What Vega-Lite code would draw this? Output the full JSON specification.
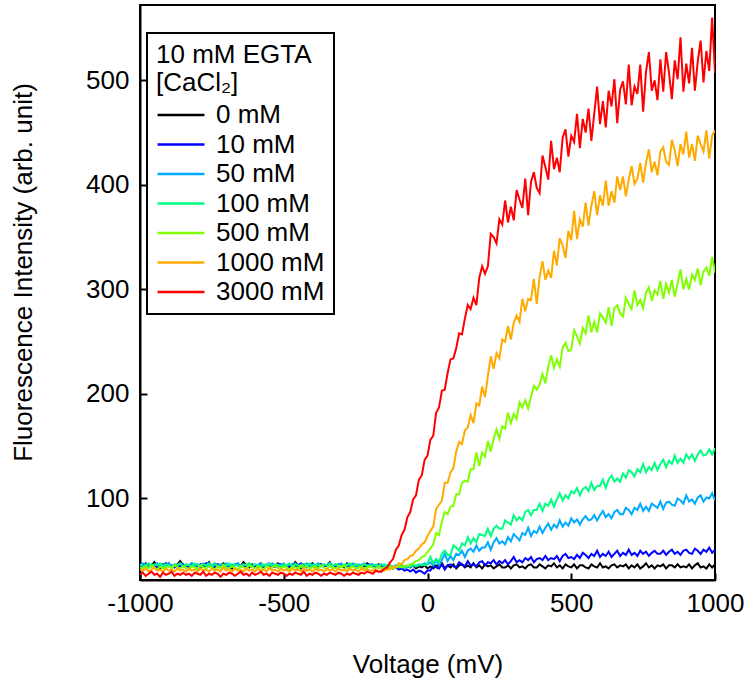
{
"$schema": "https://vega.github.io/schema/vega-lite/v6.json",
"width": 575, "height": 575,
"autosize": "none",
"padding": {"left": 140, "top": 5, "right": 33, "bottom": 105},
"background": "white",
"config": {"font": "Liberation Sans", "view": {"stroke": "black", "strokeWidth": 2}, "legend": {"strokeWidth": 2, "strokeColor": "black"}},
"data": {"values": [
{"v":-1000,"0 mM":37,"10 mM":35,"50 mM":36,"100 mM":37,"500 mM":34,"1000 mM":32,"3000 mM":27},
{"v":-990,"0 mM":35,"10 mM":36,"50 mM":38,"100 mM":35,"500 mM":33,"1000 mM":31,"3000 mM":29},
{"v":-980,"0 mM":38,"10 mM":34,"50 mM":37,"100 mM":36,"500 mM":35,"1000 mM":33,"3000 mM":26},
{"v":-970,"0 mM":34,"10 mM":37,"50 mM":35,"100 mM":38,"500 mM":33,"1000 mM":30,"3000 mM":28},
{"v":-960,"0 mM":36,"10 mM":35,"50 mM":37,"100 mM":35,"500 mM":36,"1000 mM":32,"3000 mM":30},
{"v":-950,"0 mM":39,"10 mM":36,"50 mM":36,"100 mM":37,"500 mM":34,"1000 mM":34,"3000 mM":27},
{"v":-940,"0 mM":35,"10 mM":34,"50 mM":38,"100 mM":36,"500 mM":32,"1000 mM":31,"3000 mM":28},
{"v":-930,"0 mM":33,"10 mM":37,"50 mM":35,"100 mM":38,"500 mM":35,"1000 mM":32,"3000 mM":25},
{"v":-920,"0 mM":37,"10 mM":35,"50 mM":37,"100 mM":35,"500 mM":33,"1000 mM":30,"3000 mM":29},
{"v":-910,"0 mM":36,"10 mM":38,"50 mM":36,"100 mM":37,"500 mM":34,"1000 mM":33,"3000 mM":27},
{"v":-900,"0 mM":38,"10 mM":35,"50 mM":38,"100 mM":36,"500 mM":35,"1000 mM":31,"3000 mM":28},
{"v":-890,"0 mM":34,"10 mM":36,"50 mM":35,"100 mM":34,"500 mM":33,"1000 mM":32,"3000 mM":30},
{"v":-880,"0 mM":35,"10 mM":34,"50 mM":37,"100 mM":37,"500 mM":36,"1000 mM":30,"3000 mM":26},
{"v":-870,"0 mM":37,"10 mM":36,"50 mM":36,"100 mM":36,"500 mM":34,"1000 mM":33,"3000 mM":28},
{"v":-860,"0 mM":40,"10 mM":35,"50 mM":38,"100 mM":38,"500 mM":33,"1000 mM":31,"3000 mM":27},
{"v":-850,"0 mM":36,"10 mM":37,"50 mM":35,"100 mM":35,"500 mM":35,"1000 mM":32,"3000 mM":29},
{"v":-840,"0 mM":34,"10 mM":34,"50 mM":37,"100 mM":37,"500 mM":34,"1000 mM":30,"3000 mM":27},
{"v":-830,"0 mM":35,"10 mM":36,"50 mM":36,"100 mM":36,"500 mM":32,"1000 mM":33,"3000 mM":28},
{"v":-820,"0 mM":38,"10 mM":35,"50 mM":38,"100 mM":35,"500 mM":35,"1000 mM":31,"3000 mM":26},
{"v":-810,"0 mM":36,"10 mM":37,"50 mM":35,"100 mM":38,"500 mM":34,"1000 mM":32,"3000 mM":29},
{"v":-800,"0 mM":33,"10 mM":35,"50 mM":37,"100 mM":36,"500 mM":33,"1000 mM":30,"3000 mM":28},
{"v":-790,"0 mM":37,"10 mM":34,"50 mM":36,"100 mM":35,"500 mM":36,"1000 mM":33,"3000 mM":27},
{"v":-780,"0 mM":35,"10 mM":36,"50 mM":38,"100 mM":37,"500 mM":34,"1000 mM":31,"3000 mM":30},
{"v":-770,"0 mM":36,"10 mM":38,"50 mM":35,"100 mM":36,"500 mM":33,"1000 mM":32,"3000 mM":26},
{"v":-760,"0 mM":39,"10 mM":35,"50 mM":37,"100 mM":38,"500 mM":35,"1000 mM":30,"3000 mM":28},
{"v":-750,"0 mM":34,"10 mM":36,"50 mM":36,"100 mM":35,"500 mM":34,"1000 mM":33,"3000 mM":27},
{"v":-740,"0 mM":36,"10 mM":34,"50 mM":38,"100 mM":37,"500 mM":32,"1000 mM":31,"3000 mM":29},
{"v":-730,"0 mM":37,"10 mM":37,"50 mM":35,"100 mM":36,"500 mM":35,"1000 mM":32,"3000 mM":28},
{"v":-720,"0 mM":35,"10 mM":35,"50 mM":37,"100 mM":34,"500 mM":33,"1000 mM":30,"3000 mM":25},
{"v":-710,"0 mM":38,"10 mM":36,"50 mM":36,"100 mM":37,"500 mM":36,"1000 mM":34,"3000 mM":28},
{"v":-700,"0 mM":36,"10 mM":34,"50 mM":38,"100 mM":36,"500 mM":34,"1000 mM":31,"3000 mM":27},
{"v":-690,"0 mM":34,"10 mM":37,"50 mM":35,"100 mM":38,"500 mM":33,"1000 mM":32,"3000 mM":29},
{"v":-680,"0 mM":33,"10 mM":35,"50 mM":37,"100 mM":35,"500 mM":35,"1000 mM":30,"3000 mM":28},
{"v":-670,"0 mM":37,"10 mM":36,"50 mM":36,"100 mM":37,"500 mM":34,"1000 mM":33,"3000 mM":26},
{"v":-660,"0 mM":36,"10 mM":38,"50 mM":38,"100 mM":36,"500 mM":32,"1000 mM":31,"3000 mM":28},
{"v":-650,"0 mM":35,"10 mM":35,"50 mM":35,"100 mM":35,"500 mM":35,"1000 mM":32,"3000 mM":30},
{"v":-640,"0 mM":39,"10 mM":36,"50 mM":37,"100 mM":37,"500 mM":34,"1000 mM":30,"3000 mM":27},
{"v":-630,"0 mM":36,"10 mM":34,"50 mM":36,"100 mM":36,"500 mM":33,"1000 mM":33,"3000 mM":28},
{"v":-620,"0 mM":34,"10 mM":37,"50 mM":38,"100 mM":38,"500 mM":36,"1000 mM":31,"3000 mM":26},
{"v":-610,"0 mM":37,"10 mM":35,"50 mM":35,"100 mM":35,"500 mM":34,"1000 mM":32,"3000 mM":29},
{"v":-600,"0 mM":35,"10 mM":36,"50 mM":37,"100 mM":37,"500 mM":33,"1000 mM":30,"3000 mM":27},
{"v":-590,"0 mM":36,"10 mM":34,"50 mM":36,"100 mM":36,"500 mM":35,"1000 mM":33,"3000 mM":28},
{"v":-580,"0 mM":38,"10 mM":37,"50 mM":38,"100 mM":35,"500 mM":34,"1000 mM":31,"3000 mM":30},
{"v":-570,"0 mM":33,"10 mM":35,"50 mM":35,"100 mM":37,"500 mM":32,"1000 mM":32,"3000 mM":27},
{"v":-560,"0 mM":36,"10 mM":36,"50 mM":37,"100 mM":36,"500 mM":35,"1000 mM":30,"3000 mM":28},
{"v":-550,"0 mM":37,"10 mM":38,"50 mM":36,"100 mM":38,"500 mM":33,"1000 mM":34,"3000 mM":26},
{"v":-540,"0 mM":34,"10 mM":35,"50 mM":38,"100 mM":35,"500 mM":34,"1000 mM":31,"3000 mM":29},
{"v":-530,"0 mM":35,"10 mM":36,"50 mM":35,"100 mM":37,"500 mM":36,"1000 mM":32,"3000 mM":28},
{"v":-520,"0 mM":38,"10 mM":34,"50 mM":37,"100 mM":36,"500 mM":34,"1000 mM":30,"3000 mM":27},
{"v":-510,"0 mM":36,"10 mM":37,"50 mM":36,"100 mM":35,"500 mM":33,"1000 mM":33,"3000 mM":29},
{"v":-500,"0 mM":37,"10 mM":35,"50 mM":38,"100 mM":37,"500 mM":35,"1000 mM":31,"3000 mM":28},
{"v":-490,"0 mM":34,"10 mM":36,"50 mM":35,"100 mM":36,"500 mM":34,"1000 mM":32,"3000 mM":26},
{"v":-480,"0 mM":36,"10 mM":34,"50 mM":37,"100 mM":38,"500 mM":32,"1000 mM":30,"3000 mM":28},
{"v":-470,"0 mM":35,"10 mM":37,"50 mM":36,"100 mM":35,"500 mM":35,"1000 mM":33,"3000 mM":27},
{"v":-460,"0 mM":39,"10 mM":35,"50 mM":38,"100 mM":37,"500 mM":34,"1000 mM":31,"3000 mM":29},
{"v":-450,"0 mM":36,"10 mM":36,"50 mM":35,"100 mM":36,"500 mM":33,"1000 mM":32,"3000 mM":28},
{"v":-440,"0 mM":33,"10 mM":38,"50 mM":37,"100 mM":34,"500 mM":36,"1000 mM":30,"3000 mM":27},
{"v":-430,"0 mM":37,"10 mM":35,"50 mM":36,"100 mM":37,"500 mM":34,"1000 mM":33,"3000 mM":30},
{"v":-420,"0 mM":35,"10 mM":34,"50 mM":38,"100 mM":36,"500 mM":35,"1000 mM":31,"3000 mM":26},
{"v":-410,"0 mM":36,"10 mM":37,"50 mM":35,"100 mM":38,"500 mM":33,"1000 mM":32,"3000 mM":28},
{"v":-400,"0 mM":38,"10 mM":35,"50 mM":37,"100 mM":35,"500 mM":34,"1000 mM":30,"3000 mM":27},
{"v":-390,"0 mM":34,"10 mM":36,"50 mM":36,"100 mM":37,"500 mM":35,"1000 mM":33,"3000 mM":29},
{"v":-380,"0 mM":36,"10 mM":34,"50 mM":38,"100 mM":36,"500 mM":33,"1000 mM":31,"3000 mM":28},
{"v":-370,"0 mM":37,"10 mM":37,"50 mM":35,"100 mM":35,"500 mM":36,"1000 mM":32,"3000 mM":26},
{"v":-360,"0 mM":35,"10 mM":35,"50 mM":37,"100 mM":37,"500 mM":34,"1000 mM":30,"3000 mM":28},
{"v":-350,"0 mM":36,"10 mM":36,"50 mM":36,"100 mM":36,"500 mM":32,"1000 mM":33,"3000 mM":27},
{"v":-340,"0 mM":39,"10 mM":38,"50 mM":38,"100 mM":38,"500 mM":35,"1000 mM":31,"3000 mM":29},
{"v":-330,"0 mM":34,"10 mM":35,"50 mM":35,"100 mM":35,"500 mM":34,"1000 mM":32,"3000 mM":28},
{"v":-320,"0 mM":35,"10 mM":36,"50 mM":37,"100 mM":37,"500 mM":33,"1000 mM":30,"3000 mM":27},
{"v":-310,"0 mM":37,"10 mM":34,"50 mM":36,"100 mM":36,"500 mM":35,"1000 mM":33,"3000 mM":29},
{"v":-300,"0 mM":36,"10 mM":37,"50 mM":38,"100 mM":35,"500 mM":34,"1000 mM":31,"3000 mM":28},
{"v":-290,"0 mM":34,"10 mM":35,"50 mM":35,"100 mM":37,"500 mM":36,"1000 mM":32,"3000 mM":26},
{"v":-280,"0 mM":38,"10 mM":36,"50 mM":37,"100 mM":36,"500 mM":33,"1000 mM":30,"3000 mM":28},
{"v":-270,"0 mM":35,"10 mM":34,"50 mM":36,"100 mM":38,"500 mM":34,"1000 mM":33,"3000 mM":27},
{"v":-260,"0 mM":36,"10 mM":37,"50 mM":38,"100 mM":35,"500 mM":35,"1000 mM":31,"3000 mM":29},
{"v":-250,"0 mM":37,"10 mM":35,"50 mM":35,"100 mM":37,"500 mM":33,"1000 mM":32,"3000 mM":28},
{"v":-240,"0 mM":34,"10 mM":36,"50 mM":37,"100 mM":36,"500 mM":34,"1000 mM":30,"3000 mM":27},
{"v":-230,"0 mM":36,"10 mM":35,"50 mM":36,"100 mM":35,"500 mM":35,"1000 mM":33,"3000 mM":29},
{"v":-220,"0 mM":35,"10 mM":37,"50 mM":38,"100 mM":37,"500 mM":33,"1000 mM":31,"3000 mM":28},
{"v":-210,"0 mM":38,"10 mM":34,"50 mM":35,"100 mM":36,"500 mM":34,"1000 mM":32,"3000 mM":30},
{"v":-200,"0 mM":36,"10 mM":36,"50 mM":37,"100 mM":35,"500 mM":35,"1000 mM":31,"3000 mM":29},
{"v":-190,"0 mM":36,"10 mM":35,"50 mM":37,"100 mM":36,"500 mM":34,"1000 mM":31,"3000 mM":28},
{"v":-180,"0 mM":34,"10 mM":36,"50 mM":35,"100 mM":37,"500 mM":33,"1000 mM":32,"3000 mM":31},
{"v":-170,"0 mM":37,"10 mM":34,"50 mM":36,"100 mM":35,"500 mM":35,"1000 mM":30,"3000 mM":30},
{"v":-160,"0 mM":35,"10 mM":36,"50 mM":37,"100 mM":36,"500 mM":33,"1000 mM":32,"3000 mM":30},
{"v":-150,"0 mM":36,"10 mM":35,"50 mM":35,"100 mM":37,"500 mM":34,"1000 mM":31,"3000 mM":33},
{"v":-140,"0 mM":34,"10 mM":34,"50 mM":36,"100 mM":35,"500 mM":32,"1000 mM":33,"3000 mM":34},
{"v":-130,"0 mM":36,"10 mM":35,"50 mM":34,"100 mM":36,"500 mM":35,"1000 mM":32,"3000 mM":39},
{"v":-120,"0 mM":33,"10 mM":33,"50 mM":35,"100 mM":34,"500 mM":33,"1000 mM":35,"3000 mM":42},
{"v":-110,"0 mM":35,"10 mM":34,"50 mM":36,"100 mM":36,"500 mM":34,"1000 mM":34,"3000 mM":51},
{"v":-100,"0 mM":34,"10 mM":32,"50 mM":34,"100 mM":35,"500 mM":35,"1000 mM":38,"3000 mM":55},
{"v":-90,"0 mM":36,"10 mM":33,"50 mM":35,"100 mM":36,"500 mM":34,"1000 mM":37,"3000 mM":65},
{"v":-80,"0 mM":33,"10 mM":31,"50 mM":33,"100 mM":34,"500 mM":36,"1000 mM":41,"3000 mM":70},
{"v":-70,"0 mM":35,"10 mM":32,"50 mM":35,"100 mM":36,"500 mM":35,"1000 mM":42,"3000 mM":82},
{"v":-60,"0 mM":34,"10 mM":30,"50 mM":34,"100 mM":35,"500 mM":37,"1000 mM":45,"3000 mM":87},
{"v":-50,"0 mM":36,"10 mM":32,"50 mM":36,"100 mM":37,"500 mM":38,"1000 mM":46,"3000 mM":99},
{"v":-40,"0 mM":33,"10 mM":29,"50 mM":35,"100 mM":35,"500 mM":40,"1000 mM":50,"3000 mM":103},
{"v":-30,"0 mM":35,"10 mM":31,"50 mM":37,"100 mM":36,"500 mM":41,"1000 mM":52,"3000 mM":118},
{"v":-20,"0 mM":34,"10 mM":30,"50 mM":36,"100 mM":37,"500 mM":44,"1000 mM":56,"3000 mM":122},
{"v":-10,"0 mM":36,"10 mM":28,"50 mM":38,"100 mM":36,"500 mM":45,"1000 mM":58,"3000 mM":137},
{"v":0,"0 mM":33,"10 mM":31,"50 mM":37,"100 mM":38,"500 mM":49,"1000 mM":64,"3000 mM":141},
{"v":10,"0 mM":35,"10 mM":31,"50 mM":39,"100 mM":44,"500 mM":52,"1000 mM":69,"3000 mM":156},
{"v":20,"0 mM":33,"10 mM":36,"50 mM":36,"100 mM":38,"500 mM":56,"1000 mM":73,"3000 mM":160},
{"v":30,"0 mM":36,"10 mM":34,"50 mM":41,"100 mM":42,"500 mM":67,"1000 mM":90,"3000 mM":182},
{"v":40,"0 mM":35,"10 mM":33,"50 mM":36,"100 mM":39,"500 mM":65,"1000 mM":94,"3000 mM":187},
{"v":50,"0 mM":38,"10 mM":37,"50 mM":41,"100 mM":47,"500 mM":78,"1000 mM":98,"3000 mM":203},
{"v":60,"0 mM":33,"10 mM":32,"50 mM":47,"100 mM":50,"500 mM":87,"1000 mM":115,"3000 mM":204},
{"v":70,"0 mM":36,"10 mM":36,"50 mM":40,"100 mM":46,"500 mM":85,"1000 mM":115,"3000 mM":220},
{"v":80,"0 mM":34,"10 mM":37,"50 mM":45,"100 mM":46,"500 mM":92,"1000 mM":125,"3000 mM":233},
{"v":90,"0 mM":37,"10 mM":35,"50 mM":41,"100 mM":55,"500 mM":93,"1000 mM":129,"3000 mM":234},
{"v":100,"0 mM":33,"10 mM":34,"50 mM":47,"100 mM":53,"500 mM":104,"1000 mM":145,"3000 mM":244},
{"v":110,"0 mM":36,"10 mM":39,"50 mM":46,"100 mM":50,"500 mM":104,"1000 mM":154,"3000 mM":258},
{"v":120,"0 mM":37,"10 mM":37,"50 mM":50,"100 mM":57,"500 mM":115,"1000 mM":152,"3000 mM":257},
{"v":130,"0 mM":34,"10 mM":35,"50 mM":44,"100 mM":55,"500 mM":117,"1000 mM":165,"3000 mM":272},
{"v":140,"0 mM":36,"10 mM":40,"50 mM":50,"100 mM":63,"500 mM":116,"1000 mM":168,"3000 mM":285},
{"v":150,"0 mM":34,"10 mM":36,"50 mM":52,"100 mM":57,"500 mM":128,"1000 mM":180,"3000 mM":281},
{"v":160,"0 mM":38,"10 mM":37,"50 mM":49,"100 mM":62,"500 mM":128,"1000 mM":172,"3000 mM":292},
{"v":170,"0 mM":34,"10 mM":35,"50 mM":55,"100 mM":58,"500 mM":144,"1000 mM":191,"3000 mM":285},
{"v":180,"0 mM":36,"10 mM":39,"50 mM":50,"100 mM":66,"500 mM":131,"1000 mM":189,"3000 mM":311},
{"v":190,"0 mM":33,"10 mM":40,"50 mM":53,"100 mM":65,"500 mM":144,"1000 mM":207,"3000 mM":322},
{"v":200,"0 mM":37,"10 mM":36,"50 mM":53,"100 mM":64,"500 mM":140,"1000 mM":197,"3000 mM":315},
{"v":210,"0 mM":35,"10 mM":39,"50 mM":58,"100 mM":71,"500 mM":155,"1000 mM":217,"3000 mM":322},
{"v":220,"0 mM":36,"10 mM":38,"50 mM":51,"100 mM":64,"500 mM":145,"1000 mM":236,"3000 mM":353},
{"v":230,"0 mM":33,"10 mM":41,"50 mM":58,"100 mM":71,"500 mM":157,"1000 mM":224,"3000 mM":350},
{"v":240,"0 mM":35,"10 mM":37,"50 mM":62,"100 mM":74,"500 mM":166,"1000 mM":239,"3000 mM":344},
{"v":250,"0 mM":37,"10 mM":40,"50 mM":57,"100 mM":71,"500 mM":157,"1000 mM":234,"3000 mM":367},
{"v":260,"0 mM":34,"10 mM":38,"50 mM":59,"100 mM":71,"500 mM":169,"1000 mM":252,"3000 mM":362},
{"v":270,"0 mM":34,"10 mM":41,"50 mM":56,"100 mM":79,"500 mM":167,"1000 mM":250,"3000 mM":385},
{"v":280,"0 mM":36,"10 mM":37,"50 mM":63,"100 mM":77,"500 mM":182,"1000 mM":265,"3000 mM":364},
{"v":290,"0 mM":33,"10 mM":40,"50 mM":59,"100 mM":75,"500 mM":172,"1000 mM":252,"3000 mM":379},
{"v":300,"0 mM":36,"10 mM":44,"50 mM":66,"100 mM":84,"500 mM":181,"1000 mM":268,"3000 mM":366},
{"v":310,"0 mM":37,"10 mM":39,"50 mM":63,"100 mM":79,"500 mM":176,"1000 mM":275,"3000 mM":395},
{"v":320,"0 mM":34,"10 mM":41,"50 mM":60,"100 mM":82,"500 mM":192,"1000 mM":269,"3000 mM":386},
{"v":330,"0 mM":35,"10 mM":39,"50 mM":67,"100 mM":79,"500 mM":187,"1000 mM":291,"3000 mM":378},
{"v":340,"0 mM":33,"10 mM":43,"50 mM":65,"100 mM":87,"500 mM":194,"1000 mM":279,"3000 mM":406},
{"v":350,"0 mM":36,"10 mM":41,"50 mM":72,"100 mM":89,"500 mM":186,"1000 mM":291,"3000 mM":371},
{"v":360,"0 mM":37,"10 mM":44,"50 mM":64,"100 mM":84,"500 mM":197,"1000 mM":290,"3000 mM":403},
{"v":370,"0 mM":34,"10 mM":39,"50 mM":69,"100 mM":89,"500 mM":208,"1000 mM":310,"3000 mM":412},
{"v":380,"0 mM":34,"10 mM":42,"50 mM":67,"100 mM":89,"500 mM":204,"1000 mM":286,"3000 mM":397},
{"v":390,"0 mM":37,"10 mM":43,"50 mM":73,"100 mM":95,"500 mM":209,"1000 mM":312,"3000 mM":392},
{"v":400,"0 mM":35,"10 mM":41,"50 mM":67,"100 mM":88,"500 mM":219,"1000 mM":327,"3000 mM":428},
{"v":410,"0 mM":33,"10 mM":45,"50 mM":72,"100 mM":95,"500 mM":210,"1000 mM":309,"3000 mM":417},
{"v":420,"0 mM":36,"10 mM":41,"50 mM":76,"100 mM":93,"500 mM":226,"1000 mM":318,"3000 mM":405},
{"v":430,"0 mM":35,"10 mM":43,"50 mM":70,"100 mM":99,"500 mM":237,"1000 mM":311,"3000 mM":442},
{"v":440,"0 mM":38,"10 mM":42,"50 mM":75,"100 mM":92,"500 mM":225,"1000 mM":337,"3000 mM":415},
{"v":450,"0 mM":34,"10 mM":45,"50 mM":72,"100 mM":99,"500 mM":233,"1000 mM":323,"3000 mM":426},
{"v":460,"0 mM":36,"10 mM":40,"50 mM":79,"100 mM":105,"500 mM":226,"1000 mM":349,"3000 mM":412},
{"v":470,"0 mM":33,"10 mM":45,"50 mM":73,"100 mM":98,"500 mM":244,"1000 mM":342,"3000 mM":445},
{"v":480,"0 mM":37,"10 mM":47,"50 mM":77,"100 mM":103,"500 mM":249,"1000 mM":330,"3000 mM":453},
{"v":490,"0 mM":35,"10 mM":43,"50 mM":74,"100 mM":100,"500 mM":241,"1000 mM":356,"3000 mM":427},
{"v":500,"0 mM":34,"10 mM":44,"50 mM":81,"100 mM":107,"500 mM":242,"1000 mM":347,"3000 mM":447},
{"v":510,"0 mM":37,"10 mM":42,"50 mM":77,"100 mM":105,"500 mM":261,"1000 mM":375,"3000 mM":441},
{"v":520,"0 mM":33,"10 mM":46,"50 mM":80,"100 mM":110,"500 mM":255,"1000 mM":348,"3000 mM":468},
{"v":530,"0 mM":36,"10 mM":43,"50 mM":75,"100 mM":103,"500 mM":248,"1000 mM":367,"3000 mM":435},
{"v":540,"0 mM":36,"10 mM":48,"50 mM":80,"100 mM":109,"500 mM":263,"1000 mM":360,"3000 mM":463},
{"v":550,"0 mM":34,"10 mM":46,"50 mM":83,"100 mM":111,"500 mM":258,"1000 mM":383,"3000 mM":450},
{"v":560,"0 mM":33,"10 mM":43,"50 mM":79,"100 mM":107,"500 mM":275,"1000 mM":361,"3000 mM":473},
{"v":570,"0 mM":37,"10 mM":47,"50 mM":80,"100 mM":115,"500 mM":259,"1000 mM":380,"3000 mM":442},
{"v":580,"0 mM":35,"10 mM":45,"50 mM":84,"100 mM":108,"500 mM":269,"1000 mM":394,"3000 mM":468},
{"v":590,"0 mM":34,"10 mM":50,"50 mM":79,"100 mM":112,"500 mM":259,"1000 mM":371,"3000 mM":494},
{"v":600,"0 mM":38,"10 mM":44,"50 mM":84,"100 mM":112,"500 mM":277,"1000 mM":390,"3000 mM":458},
{"v":610,"0 mM":34,"10 mM":47,"50 mM":88,"100 mM":118,"500 mM":273,"1000 mM":380,"3000 mM":480},
{"v":620,"0 mM":35,"10 mM":45,"50 mM":82,"100 mM":110,"500 mM":268,"1000 mM":404,"3000 mM":455},
{"v":630,"0 mM":33,"10 mM":49,"50 mM":85,"100 mM":118,"500 mM":283,"1000 mM":380,"3000 mM":490},
{"v":640,"0 mM":36,"10 mM":44,"50 mM":81,"100 mM":122,"500 mM":265,"1000 mM":394,"3000 mM":475},
{"v":650,"0 mM":37,"10 mM":47,"50 mM":87,"100 mM":116,"500 mM":282,"1000 mM":383,"3000 mM":501},
{"v":660,"0 mM":34,"10 mM":50,"50 mM":89,"100 mM":119,"500 mM":285,"1000 mM":408,"3000 mM":459},
{"v":670,"0 mM":36,"10 mM":45,"50 mM":85,"100 mM":116,"500 mM":277,"1000 mM":395,"3000 mM":491},
{"v":680,"0 mM":35,"10 mM":48,"50 mM":85,"100 mM":124,"500 mM":274,"1000 mM":408,"3000 mM":499},
{"v":690,"0 mM":37,"10 mM":46,"50 mM":91,"100 mM":120,"500 mM":292,"1000 mM":389,"3000 mM":477},
{"v":700,"0 mM":33,"10 mM":51,"50 mM":89,"100 mM":127,"500 mM":286,"1000 mM":405,"3000 mM":515},
{"v":710,"0 mM":36,"10 mM":46,"50 mM":85,"100 mM":125,"500 mM":281,"1000 mM":418,"3000 mM":476},
{"v":720,"0 mM":34,"10 mM":48,"50 mM":91,"100 mM":121,"500 mM":299,"1000 mM":401,"3000 mM":494},
{"v":730,"0 mM":37,"10 mM":45,"50 mM":89,"100 mM":128,"500 mM":285,"1000 mM":406,"3000 mM":487},
{"v":740,"0 mM":33,"10 mM":50,"50 mM":95,"100 mM":125,"500 mM":290,"1000 mM":421,"3000 mM":515},
{"v":750,"0 mM":35,"10 mM":47,"50 mM":88,"100 mM":133,"500 mM":282,"1000 mM":402,"3000 mM":470},
{"v":760,"0 mM":38,"10 mM":49,"50 mM":92,"100 mM":125,"500 mM":297,"1000 mM":421,"3000 mM":508},
{"v":770,"0 mM":34,"10 mM":45,"50 mM":88,"100 mM":130,"500 mM":302,"1000 mM":434,"3000 mM":527},
{"v":780,"0 mM":36,"10 mM":48,"50 mM":95,"100 mM":127,"500 mM":289,"1000 mM":412,"3000 mM":490},
{"v":790,"0 mM":33,"10 mM":50,"50 mM":93,"100 mM":134,"500 mM":299,"1000 mM":422,"3000 mM":500},
{"v":800,"0 mM":36,"10 mM":47,"50 mM":91,"100 mM":127,"500 mM":295,"1000 mM":409,"3000 mM":481},
{"v":810,"0 mM":35,"10 mM":47,"50 mM":97,"100 mM":133,"500 mM":308,"1000 mM":432,"3000 mM":520},
{"v":820,"0 mM":37,"10 mM":50,"50 mM":90,"100 mM":137,"500 mM":291,"1000 mM":436,"3000 mM":489},
{"v":830,"0 mM":33,"10 mM":46,"50 mM":96,"100 mM":130,"500 mM":305,"1000 mM":422,"3000 mM":527},
{"v":840,"0 mM":36,"10 mM":49,"50 mM":97,"100 mM":136,"500 mM":297,"1000 mM":419,"3000 mM":507},
{"v":850,"0 mM":36,"10 mM":51,"50 mM":94,"100 mM":133,"500 mM":309,"1000 mM":443,"3000 mM":482},
{"v":860,"0 mM":34,"10 mM":47,"50 mM":93,"100 mM":141,"500 mM":293,"1000 mM":433,"3000 mM":519},
{"v":870,"0 mM":37,"10 mM":49,"50 mM":100,"100 mM":134,"500 mM":306,"1000 mM":418,"3000 mM":501},
{"v":880,"0 mM":34,"10 mM":46,"50 mM":98,"100 mM":138,"500 mM":319,"1000 mM":439,"3000 mM":541},
{"v":890,"0 mM":35,"10 mM":50,"50 mM":95,"100 mM":134,"500 mM":300,"1000 mM":429,"3000 mM":489},
{"v":900,"0 mM":34,"10 mM":51,"50 mM":103,"100 mM":142,"500 mM":310,"1000 mM":451,"3000 mM":516},
{"v":910,"0 mM":37,"10 mM":48,"50 mM":97,"100 mM":138,"500 mM":300,"1000 mM":426,"3000 mM":497},
{"v":920,"0 mM":33,"10 mM":47,"50 mM":99,"100 mM":142,"500 mM":314,"1000 mM":439,"3000 mM":531},
{"v":930,"0 mM":36,"10 mM":52,"50 mM":95,"100 mM":136,"500 mM":309,"1000 mM":423,"3000 mM":490},
{"v":940,"0 mM":38,"10 mM":50,"50 mM":101,"100 mM":142,"500 mM":320,"1000 mM":447,"3000 mM":518},
{"v":950,"0 mM":34,"10 mM":47,"50 mM":103,"100 mM":146,"500 mM":304,"1000 mM":439,"3000 mM":538},
{"v":960,"0 mM":35,"10 mM":51,"50 mM":97,"100 mM":141,"500 mM":317,"1000 mM":432,"3000 mM":498},
{"v":970,"0 mM":33,"10 mM":49,"50 mM":101,"100 mM":142,"500 mM":321,"1000 mM":452,"3000 mM":528},
{"v":980,"0 mM":37,"10 mM":53,"50 mM":100,"100 mM":147,"500 mM":313,"1000 mM":425,"3000 mM":509},
{"v":990,"0 mM":34,"10 mM":48,"50 mM":105,"100 mM":142,"500 mM":331,"1000 mM":447,"3000 mM":560},
{"v":1000,"0 mM":37,"10 mM":51,"50 mM":98,"100 mM":148,"500 mM":316,"1000 mM":452,"3000 mM":507}
]},
"transform": [{"fold": ["0 mM","10 mM","50 mM","100 mM","500 mM","1000 mM","3000 mM"], "as": ["conc","intensity"]}],
"mark": {"type": "line", "strokeWidth": 2, "clip": true},
"encoding": {
  "x": {"field": "v", "type": "quantitative",
        "scale": {"domain": [-1000, 1000], "nice": false},
        "axis": {"title": "Voltage (mV)", "values": [-1000,-500,0,500,1000], "grid": false,
                 "labelExpr": "'' + datum.value",
                 "domainColor": "black", "domainWidth": 2, "tickColor": "black", "tickWidth": 2, "tickSize": -7,
                 "labelFontSize": 26, "labelColor": "black", "labelPadding": 17, "labelFlush": false,
                 "titleFontSize": 26, "titleFontWeight": "normal", "titleColor": "black",
                 "titleBaseline": "middle", "titleY": 84}},
  "y": {"field": "intensity", "type": "quantitative",
        "scale": {"domain": [22, 572], "nice": false, "zero": false},
        "axis": {"title": "Fluorescence Intensity (arb. unit)", "values": [100,200,300,400,500], "grid": false,
                 "domainColor": "black", "domainWidth": 2, "tickColor": "black", "tickWidth": 2, "tickSize": -7,
                 "labelFontSize": 26, "labelColor": "black", "labelPadding": 18, "labelFlush": false,
                 "titleFontSize": 26, "titleFontWeight": "normal", "titleColor": "black",
                 "titleBaseline": "middle", "titleX": -117, "titleY": 267}},
  "color": {"field": "conc", "type": "nominal",
        "scale": {"domain": ["0 mM","10 mM","50 mM","100 mM","500 mM","1000 mM","3000 mM"],
                  "range": ["#000000","#0000ff","#00aaff","#00ff80","#80ff00","#ffaa00","#ff0000"]},
        "legend": {"title": ["10 mM EGTA", "[CaCl₂]"], "orient": "none", "legendX": 7, "legendY": 28,
                   "titleFontSize": 26, "titleFontWeight": "normal", "titleColor": "black", "titleLineHeight": 28,
                   "titlePadding": 8, "labelFontSize": 26, "labelColor": "black", "labelOffset": 10,
                   "symbolType": "stroke", "symbolSize": 2200, "symbolStrokeWidth": 2.5, "clipHeight": 22,
                   "rowPadding": 3.5, "padding": 9, "strokeColor": "black", "fillColor": "white",
                   "cornerRadius": 0}}
}
}
